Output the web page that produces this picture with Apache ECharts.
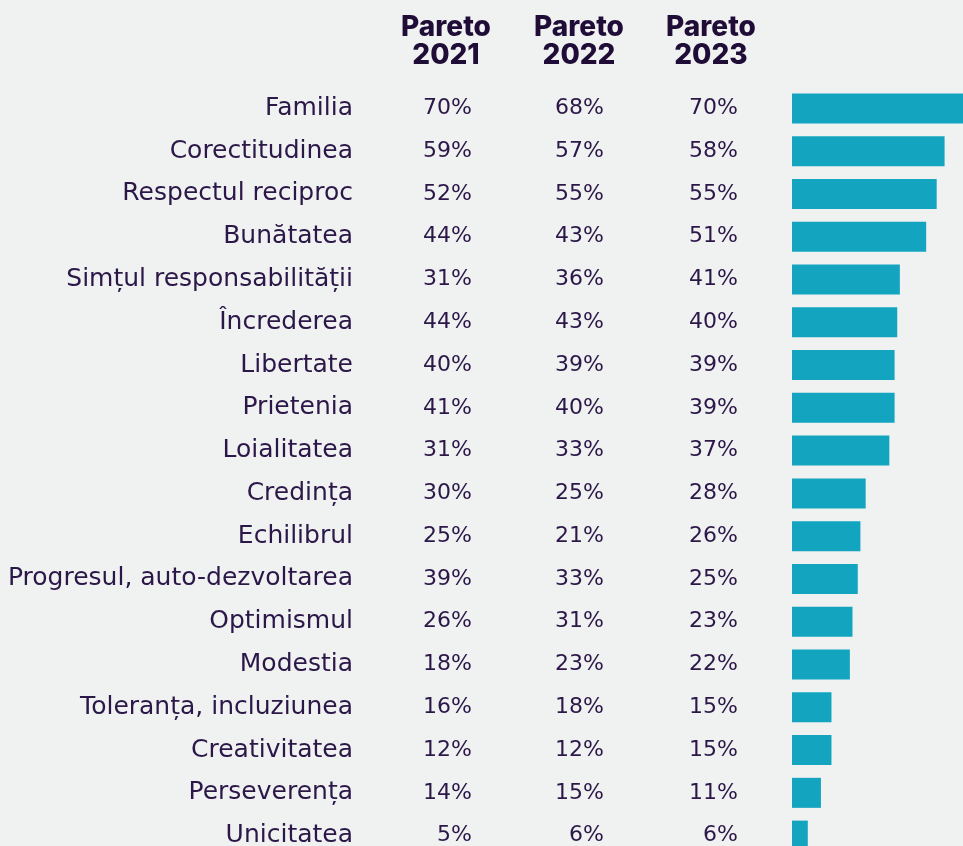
<!DOCTYPE html>
<html>
<head>
<meta charset="utf-8">
<script src="https://cdn.jsdelivr.net/npm/echarts@6/dist/echarts.min.js"></script>
<style>
  html, body { margin: 0; padding: 0; background: #f0f1f1; }
  #chart { width: 963px; height: 846px; }
</style>
</head>
<body>
<div id="chart"></div>
<script>
const valori = [
  'Familia', 'Corectitudinea', 'Respectul reciproc', 'Bunătatea',
  'Simțul responsabilității', 'Încrederea', 'Libertate', 'Prietenia',
  'Loialitatea', 'Credința', 'Echilibrul', 'Progresul, auto-dezvoltarea',
  'Optimismul', 'Modestia', 'Toleranța, incluziunea', 'Creativitatea',
  'Perseverența', 'Unicitatea'
];
const pareto2021 = [70, 59, 52, 44, 31, 44, 40, 41, 31, 30, 25, 39, 26, 18, 16, 12, 14, 5];
const pareto2022 = [68, 57, 55, 43, 36, 43, 39, 40, 33, 25, 21, 33, 31, 23, 18, 12, 15, 6];
const pareto2023 = [70, 58, 55, 51, 41, 40, 39, 39, 37, 28, 26, 25, 23, 22, 15, 15, 11, 6];
const headers = ['Pareto\n2021', 'Pareto\n2022', 'Pareto\n2023'];

const textColor = '#2b1748';
const labelFont = '"DejaVu Sans", sans-serif';
const headFont = 'Inter, "Noto Sans", sans-serif';
const gridLeft = 792;

const chart = echarts.init(document.getElementById('chart'));

// one y axis per column, shifted left with offset
function column(offset, fontSize, formatter) {
  return {
    type: 'category',
    data: valori,
    inverse: true,
    position: 'left',
    offset: offset,
    axisLine: { show: false },
    axisTick: { show: false },
    axisLabel: {
      margin: 0,
      color: textColor,
      fontFamily: labelFont,
      fontSize: fontSize,
      formatter: formatter
    }
  };
}

const headerX = [446, 579, 711];

const option = {
  backgroundColor: '#f0f1f1',
  animation: false,
  grid: { left: gridLeft, right: 0, top: 87, height: 770, outerBoundsMode: 'none' },
  xAxis: { type: 'value', min: 0, max: 65, show: false },
  yAxis: [
    column(gridLeft - 353, 25, (v) => v),
    column(gridLeft - 472, 22, (v, i) => pareto2021[i] + '%'),
    column(gridLeft - 604, 22, (v, i) => pareto2022[i] + '%'),
    column(gridLeft - 738, 22, (v, i) => pareto2023[i] + '%')
  ],
  graphic: headers.map((h, i) => ({
    type: 'text',
    x: headerX[i],
    y: 14,
    style: {
      text: h,
      textAlign: 'center',
      fill: '#1f0d38',
      font: '800 28px ' + headFont,
      lineHeight: 28
    }
  })),
  series: [
    {
      type: 'bar',
      yAxisIndex: 0,
      data: pareto2023,
      barWidth: 30,
      clip: true,
      itemStyle: { color: '#13a4c0' }
    }
  ]
};

chart.setOption(option);
</script>
</body>
</html>
